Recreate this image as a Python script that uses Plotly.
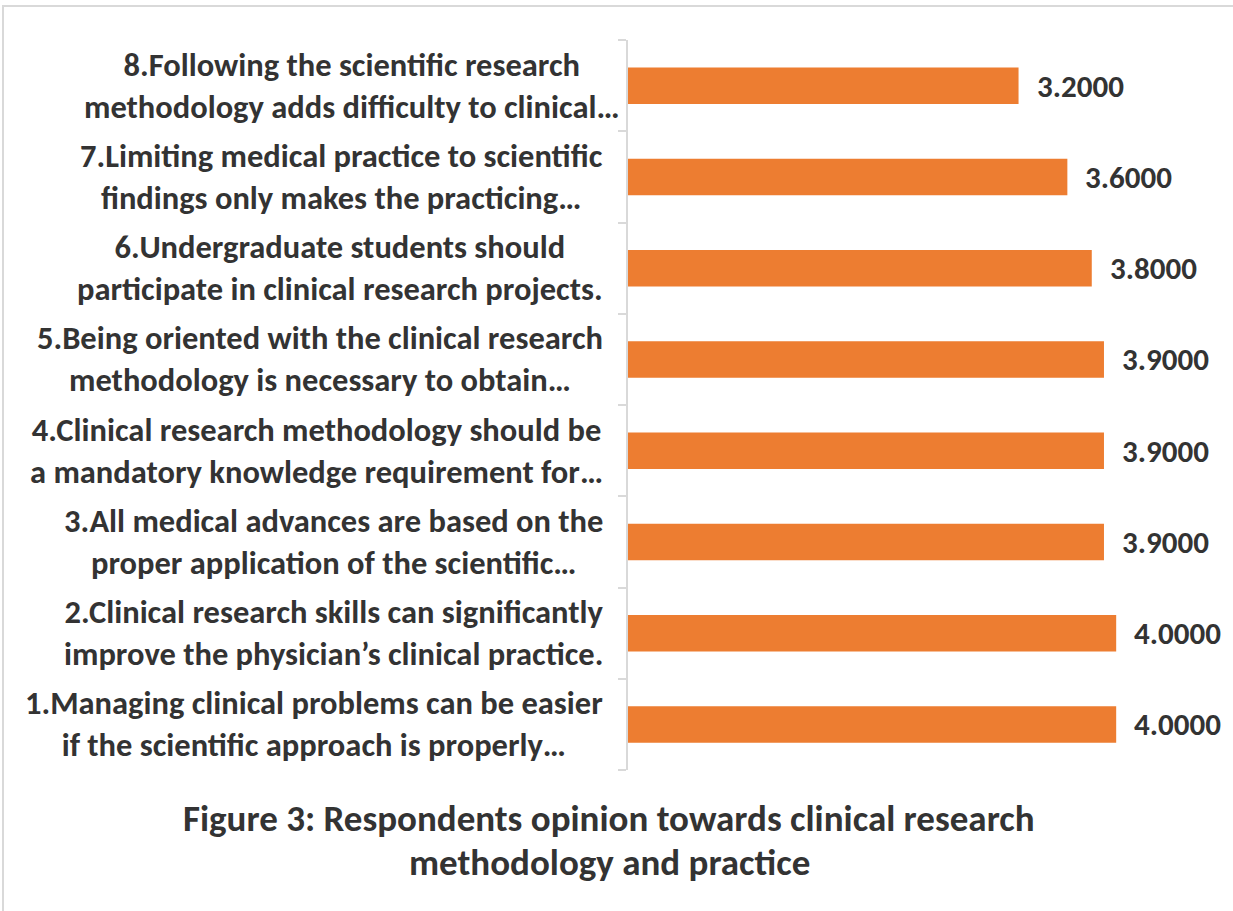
import plotly.graph_objects as go

categories = [
    "1.Managing clinical problems can be easier<br>if the scientific approach is properly…",
    "2.Clinical research skills can significantly<br>improve the physician’s clinical practice.",
    "3.All medical advances are based on the<br>proper application of the scientific…",
    "4.Clinical research methodology should be<br>a mandatory knowledge requirement for…",
    "5.Being oriented with the clinical research<br>methodology is necessary to obtain…",
    "6.Undergraduate students should<br>participate in clinical research projects.",
    "7.Limiting medical practice to scientific<br>findings only makes the practicing…",
    "8.Following the scientific research<br>methodology adds difficulty to clinical…",
]
values = [4.0, 4.0, 3.9, 3.9, 3.9, 3.8, 3.6, 3.2]
title_lines = ["Figure 3: Respondents opinion towards clinical research",
               "methodology and practice"]

FONT = "Carlito, Lato, sans-serif"
TXT = "#333333"
W, H = 1233, 911
L, R, T, B = 628, 68, 40, 141
XMAX = 4.4

fig = go.Figure()
fig.add_trace(go.Bar(
    y=categories, x=values, orientation="h",
    marker=dict(color="#ED7D31", line=dict(width=0)),
    hoverinfo="x+y", cliponaxis=False,
))

for i, (c, v) in enumerate(zip(categories, values)):
    fig.add_annotation(x=0, xref="paper", y=c, yref="y", text=c, showarrow=False,
                       xanchor="right", yanchor="middle", align="center",
                       xshift=(-6 if i == 7 else -23),
                       font=dict(family=FONT, size=32.5, color=TXT, weight="bold"))
    fig.add_annotation(x=v, xref="x", y=c, yref="y", text=f"{v:.4f}", showarrow=False,
                       xanchor="left", yanchor="middle", xshift=16,
                       font=dict(family=FONT, size=31, color=TXT, weight="bold"))

pw = W - L - R
ph = H - T - B
for line, py in zip(title_lines, [818, 862]):
    fig.add_annotation(x=(609 - L) / pw, xref="paper", y=(H - B - py) / ph, yref="paper",
                       text=line, showarrow=False, xanchor="center", yanchor="middle",
                       font=dict(family=FONT, size=37, color=TXT, weight="bold"))

# outer chart border
fig.add_shape(type="rect", xref="paper", yref="paper",
              x0=(3 - L) / pw, x1=(1240 - L) / pw,
              y0=(H - B - 920) / ph, y1=(H - B - 6) / ph,
              line=dict(color="#d9d9d9", width=2), fillcolor="rgba(0,0,0,0)", layer="below")

fig.update_layout(
    width=W, height=H,
    margin=dict(l=L, r=R, t=T, b=B),
    paper_bgcolor="white", plot_bgcolor="white",
    bargap=0.6, showlegend=False,
    xaxis=dict(range=[0, XMAX], visible=False, fixedrange=True),
    yaxis=dict(type="category", showticklabels=False, showline=True, linecolor="#d9d9d9",
               linewidth=2, ticks="outside", tickson="boundaries", ticklen=8,
               tickcolor="#d9d9d9", tickwidth=2, showgrid=False, zeroline=False,
               fixedrange=True),
)

fig.write_html("out.html", config={"displayModeBar": False},
               post_script="document.body.style.margin='0px';document.body.style.overflow='hidden';")
